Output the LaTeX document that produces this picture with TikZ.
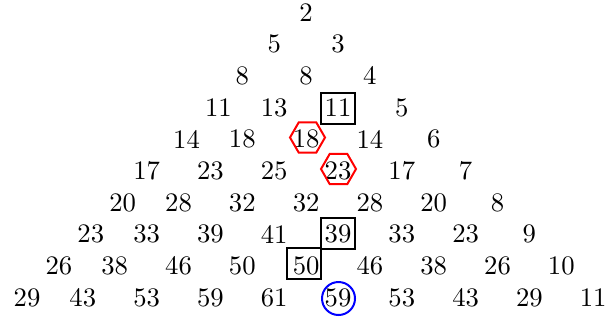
\documentclass[tikz,border=0pt]{standalone}
\usetikzlibrary{shapes.geometric}
\begin{document}
\begin{tikzpicture}[x=1pt,y=-1pt,
  num/.style={inner sep=0pt,font=\fontsize{10}{12}\selectfont,scale=2.67},
  boxmark/.style={draw=black,line width=2pt,rectangle,minimum width=34pt,minimum height=31pt,inner sep=0pt},
  hexmark/.style={draw=red,line width=2pt,regular polygon,regular polygon sides=6,minimum size=35pt,inner sep=0pt},
  circmark/.style={draw=blue,line width=2pt,circle,minimum size=33pt,inner sep=0pt}]
\useasboundingbox (0,0) rectangle (609,324);
\foreach \row [count=\r from 0] in {{2},{5,3},{8,8,4},{11,13,11,5},{14,18,18,14,6},{17,23,25,23,17,7},{20,28,32,32,28,20,8},{23,33,39,41,39,33,23,9},{26,38,46,50,50,46,38,26,10},{29,43,53,59,61,59,53,43,29,11}}{
  \foreach \v [count=\k from 0] in \row {
    \pgfmathsetmacro\sh{(\k==0)*(\r>2)*(\r!=5)*8}
    \pgfmathsetmacro\xx{19+31.9*(9-\r+2*\k)+\sh}
    \pgfmathsetmacro\yy{12.5+31.67*\r}
    \node[num] (n-\r-\k) at (\xx,\yy) {\v};
  }
}
\node[boxmark] (b1) at (337.5,108) {};
\node[boxmark] (b2) at (338,233.5) {};
\node[boxmark] (b3) at (304,263.5) {};
\node[hexmark] (h1) at (307.5,137.5) {};
\node[hexmark] (h2) at (338.5,169) {};
\node[circmark] (c1) at (338.5,298.5) {};
\end{tikzpicture}
\end{document}
